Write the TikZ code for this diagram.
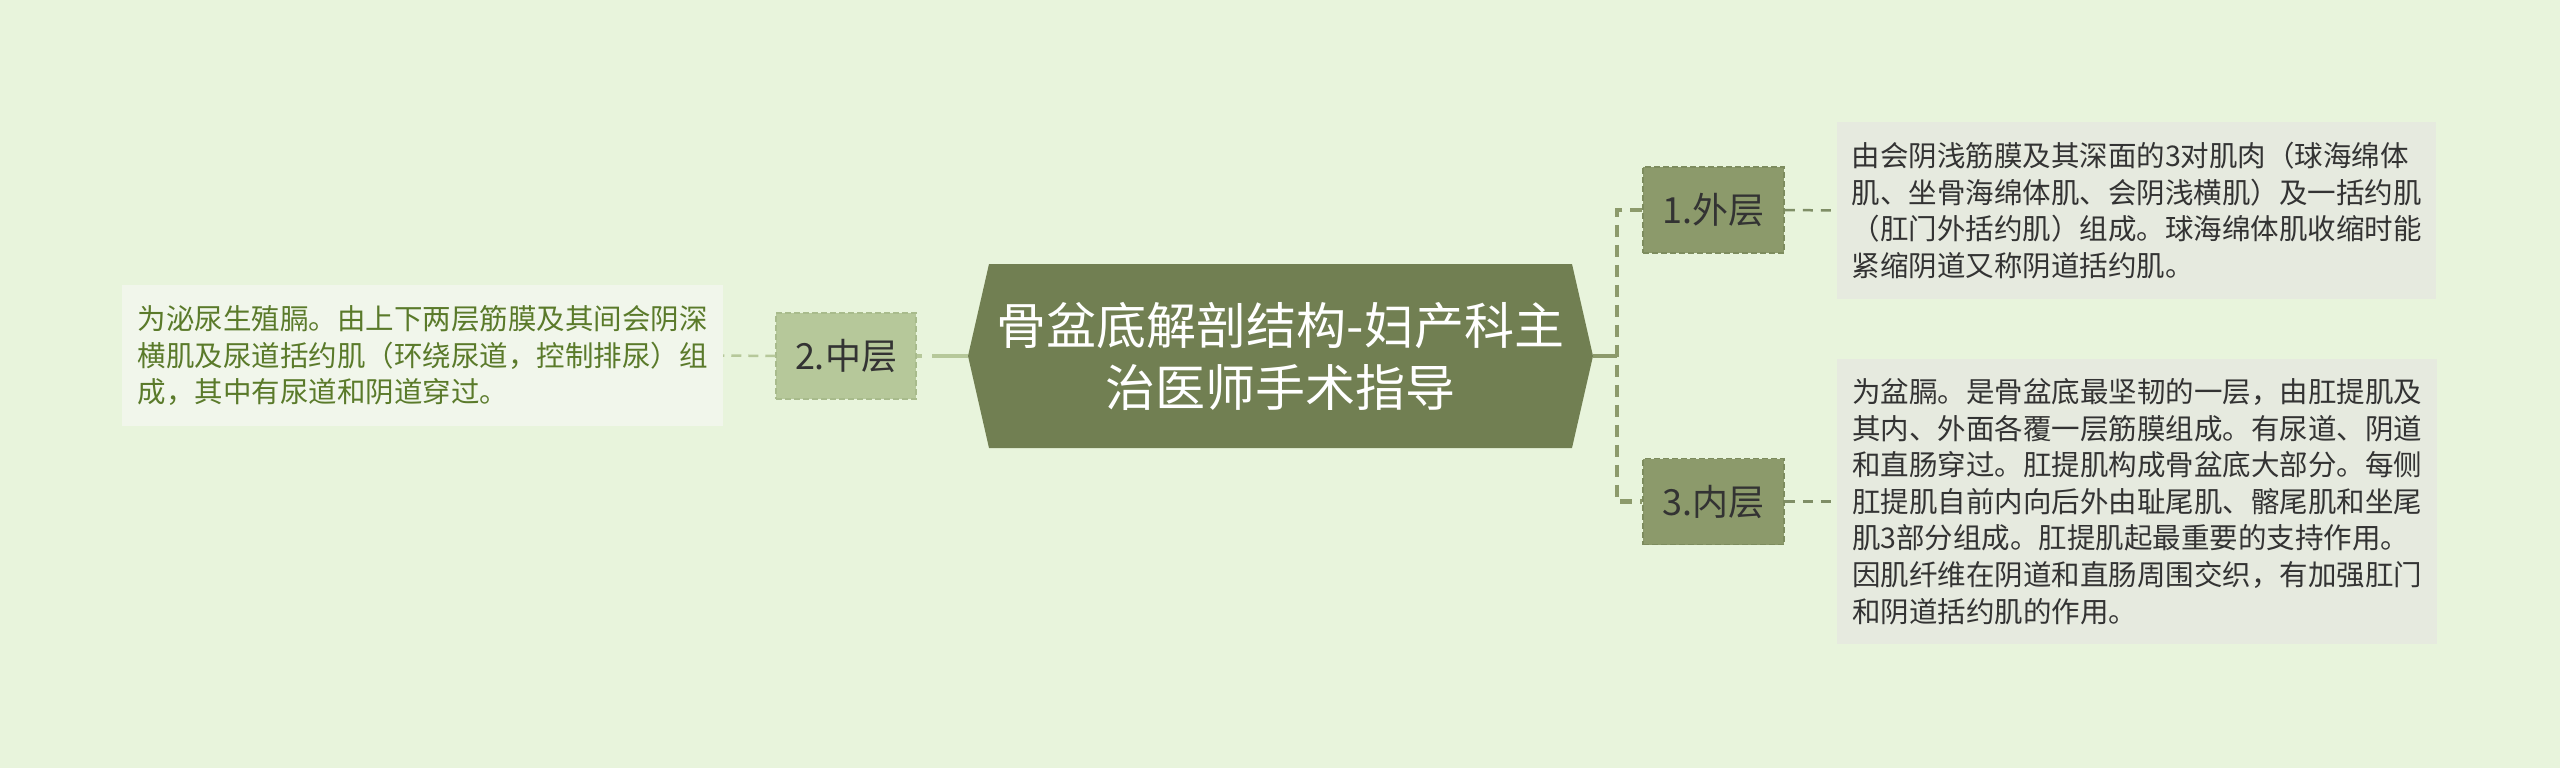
\documentclass[tikz,border=0pt]{standalone}
\usepackage{fontspec}
\setmainfont{Noto Sans CJK SC}
\definecolor{bg}{HTML}{E8F4DC}
\definecolor{rootc}{HTML}{717F52}
\definecolor{lvla}{HTML}{8C9A6B}
\definecolor{lvlaline}{HTML}{7D8C5E}
\definecolor{lvlb}{HTML}{B6C89A}
\definecolor{lvlbline}{HTML}{A8BB8C}
\definecolor{tboxr}{HTML}{E6EADF}
\definecolor{tboxl}{HTML}{F1F6EB}
\definecolor{ltext}{HTML}{5A7A2A}
\definecolor{dtext}{HTML}{333333}
\definecolor{rdashc}{HTML}{7F8E66}
\tikzset{
  rootnode/.style={text=white, font=\fontsize{50}{62}\selectfont, align=center,
    minimum width=625, minimum height=184, inner sep=0pt},
  lvlabox/.style={fill=lvla, draw=lvlaline, line width=1.5pt, dash pattern=on 6pt off 3pt,
    minimum width=141, minimum height=86, inner sep=0pt, text=dtext,
    font=\fontsize{36}{42}\selectfont},
  lvlbbox/.style={fill=lvlb, draw=lvlbline, line width=1.5pt, dash pattern=on 6pt off 3pt,
    minimum width=140, minimum height=86, inner sep=0pt, text=dtext,
    font=\fontsize{36}{42}\selectfont},
  rtext/.style={fill=tboxr, text=dtext, align=left, inner sep=0pt,
    font=\fontsize{28.5}{36.6}\selectfont},
  ltextbox/.style={fill=tboxl, text=ltext, align=left, inner sep=0pt,
    font=\fontsize{28.5}{36.6}\selectfont},
  rconn/.style={draw=lvla, line width=4.5pt},
  lconn/.style={draw=lvlb, line width=4.5pt},
  rdash/.style={draw=rdashc, line width=2.5pt, dash pattern=on 10pt off 8pt},
  ldash/.style={draw=lvlb, line width=2.5pt, dash pattern=on 10pt off 7pt}
}
\begin{document}
\begin{tikzpicture}[x=1pt,y=-1pt]
\fill[bg] (0,0) rectangle (2560,768);
\useasboundingbox (0,0) rectangle (2560,768);
% root hexagon
\fill[rootc] (968,356) -- (989,264) -- (1572,264) -- (1593,356) -- (1572,448) -- (989,448) -- cycle;
\node[rootnode] (root) at (1280.5,356) {骨盆底解剖结构-妇产科主\\治医师手术指导};
% level boxes
\node[lvlabox] (b1) at (1713.5,210) {1.外层};
\node[lvlabox] (b3) at (1713.5,501.5) {3.内层};
\node[lvlbbox] (b2) at (846,356) {2.中层};
% text boxes
\node[rtext, minimum width=599, minimum height=177] (t1) at (2136.5,210.5)
  {由会阴浅筋膜及其深面的3对肌肉（球海绵体\\肌、坐骨海绵体肌、会阴浅横肌）及一括约肌\\（肛门外括约肌）组成。球海绵体肌收缩时能\\紧缩阴道又称阴道括约肌。};
\node[rtext, minimum width=600, minimum height=285] (t3) at (2137,501.5)
  {为盆膈。是骨盆底最坚韧的一层，由肛提肌及\\其内、外面各覆一层筋膜组成。有尿道、阴道\\和直肠穿过。肛提肌构成骨盆底大部分。每侧\\肛提肌自前内向后外由耻尾肌、髂尾肌和坐尾\\肌3部分组成。肛提肌起最重要的支持作用。\\因肌纤维在阴道和直肠周围交织，有加强肛门\\和阴道括约肌的作用。};
\node[ltextbox, minimum width=601, minimum height=141] (t2) at (422.5,355.5)
  {为泌尿生殖膈。由上下两层筋膜及其间会阴深\\横肌及尿道括约肌（环绕尿道，控制排尿）组\\成，其中有尿道和阴道穿过。};
% connectors
\coordinate (jr) at (1617,356);
\draw[rconn] (root.east) -- (jr);
\draw[rconn, dash pattern=on 12pt off 8pt] (b1.west) -- (b1.west -| jr) -- (b3.west -| jr) -- (b3.west);
\draw[lconn, dash pattern=on 36pt off 10pt] (root.west) -- (b2.east);
\draw[rdash] (b1.east) -- (t1.west);
\draw[rdash] (b3.east) -- (t3.west);
\draw[ldash] (b2.west) -- (t2.east);
\end{tikzpicture}
\end{document}
